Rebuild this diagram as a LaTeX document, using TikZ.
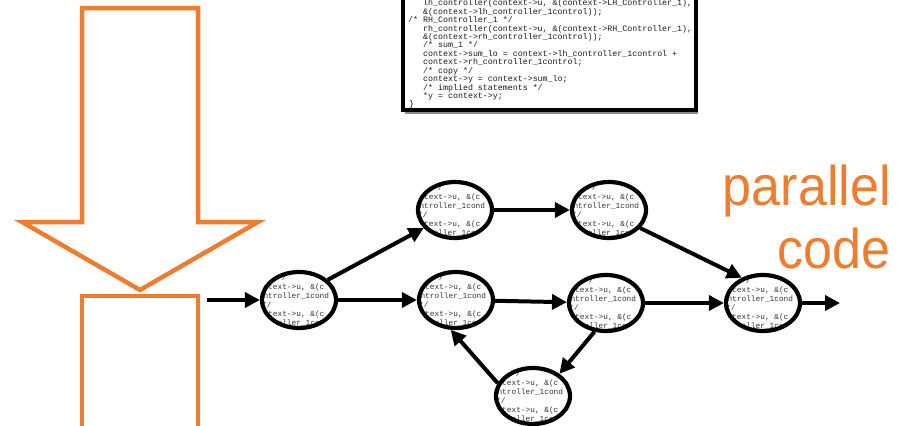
\documentclass[tikz,border=0pt]{standalone}
\usepackage{fontspec}
\setmainfont{Liberation Sans}
\newfontfamily\codefont{Liberation Mono}
\usetikzlibrary{arrows.meta,shapes.geometric,calc}
\definecolor{orng}{HTML}{ED7D31}
\newcommand\tasktextat[1]{%
  \begin{scope}
  \clip (#1) ellipse [x radius=37pt, y radius=28pt];
  \node[tline] at ($(#1)+(-22,-19.3)$) {*/};
  \node[tline] at ($(#1)+(-45,-10.4)$) {context->u, \&(c};
  \node[tline] at ($(#1)+(-45,-1.5)$) {controller\_1cond};
  \node[tline] at ($(#1)+(-37,7.4)$) {*/};
  \node[tline] at ($(#1)+(-45,16.3)$) {context->u, \&(c};
  \node[tline] at ($(#1)+(-45,25.2)$) {controller\_1cond};
  \end{scope}
}
\begin{document}
\begin{tikzpicture}[x=1pt,y=-1pt,
  tline/.style={anchor=base west, inner sep=0pt, text=black!80, font=\fontsize{7.8}{8}\codefont},
  codeline/.style={anchor=base west, inner sep=0pt, text=black!90, font=\fontsize{8.3}{8.4}\codefont},
  task/.style={ellipse, draw=black, line width=4.2pt, minimum width=74pt, minimum height=56pt, inner sep=0pt},
  conn/.style={draw=black, line width=4pt, -{Triangle[length=15pt,width=15pt]}},
  orangeline/.style={draw=orng, line width=4.5pt, line join=miter},
  bigtext/.style={anchor=base east, inner sep=0pt, text=orng, font=\fontsize{56}{56}\selectfont, xscale=0.93}]
\useasboundingbox (0,0) rectangle (898,426);
\clip (0,0) rectangle (898,426);

% orange transformation arrow
\draw[orangeline] (82,440) -- (82,296) -- (198,296) -- (198,440);
\draw[orangeline, fill=white] (82,8) -- (198,8) -- (198,222) -- (258,222) -- (140,290) -- (22,222) -- (82,222) -- cycle;

% sequential code box
\begin{scope}
  \clip (405,-5) rectangle (694,108);
  \node[codeline] (c1) at (423,5.8) {lh\_controller(context->u, \&(context->LH\_Controller\_1),};
  \node[codeline] (c2) at (423,14.2) {\&(context->lh\_controller\_1control));};
  \node[codeline] (c3) at (408,22.6) {/* RH\_Controller\_1 */};
  \node[codeline] (c4) at (423,31.1) {rh\_controller(context->u, \&(context->RH\_Controller\_1),};
  \node[codeline] (c5) at (423,39.5) {\&(context->rh\_controller\_1control));};
  \node[codeline] (c6) at (423,47.9) {/* sum\_1 */};
  \node[codeline] (c7) at (423,56.3) {context->sum\_lo = context->lh\_controller\_1control +};
  \node[codeline] (c8) at (423,64.7) {context->rh\_controller\_1control;};
  \node[codeline] (c9) at (423,73.2) {/* copy */};
  \node[codeline] (c10) at (423,81.6) {context->y = context->sum\_lo;};
  \node[codeline] (c11) at (423,90.0) {/* implied statements */};
  \node[codeline] (c12) at (423,98.4) {*y = context->y;};
  \node[codeline] (c13) at (409,106.8) {\}};
\end{scope}
\draw[black, line width=4.2pt, line join=miter] (403,-10) -- (403,110) -- (696,110) -- (696,-10);
\draw[black!45, line width=1.2pt] (405,113) -- (698,113);

% task graph: centres, clipped code text, then the ellipses
\coordinate (p1) at (299,300);
\coordinate (p2) at (455,210);
\coordinate (p3) at (609,210);
\coordinate (p4) at (456,300);
\coordinate (p5) at (606,303);
\coordinate (p6) at (763,303);
\coordinate (p7) at (533,396);
\tasktextat{p1}
\tasktextat{p2}
\tasktextat{p3}
\tasktextat{p4}
\tasktextat{p5}
\tasktextat{p6}
\tasktextat{p7}
\node[task] (n1) at (p1) {};
\node[task] (n2) at (p2) {};
\node[task] (n3) at (p3) {};
\node[task] (n4) at (p4) {};
\node[task] (n5) at (p5) {};
\node[task] (fin) at (p6) {};
\node[task] (bot) at (p7) {};
\coordinate (in) at (207,300);
\coordinate (out) at (840,303);

\draw[conn] (in) -- (n1);
\draw[conn] (n1.35) -- (n2.210);
\draw[conn] (n1) -- (n4);
\draw[conn] (n2) -- (n3);
\draw[conn] (n4) -- (n5);
\draw[conn] (n3.-30) -- (fin.130);
\draw[conn] (n5) -- (fin);
\draw[conn] (n5.-112) -- (bot.40);
\draw[conn] (bot.160) -- (n4.-100);
\draw[conn] (fin) -- (out);

% label
\node[bigtext] (t1) at (891,205) {parallel};
\node[bigtext] (t2) at (891,268) {code};
\end{tikzpicture}
\end{document}
